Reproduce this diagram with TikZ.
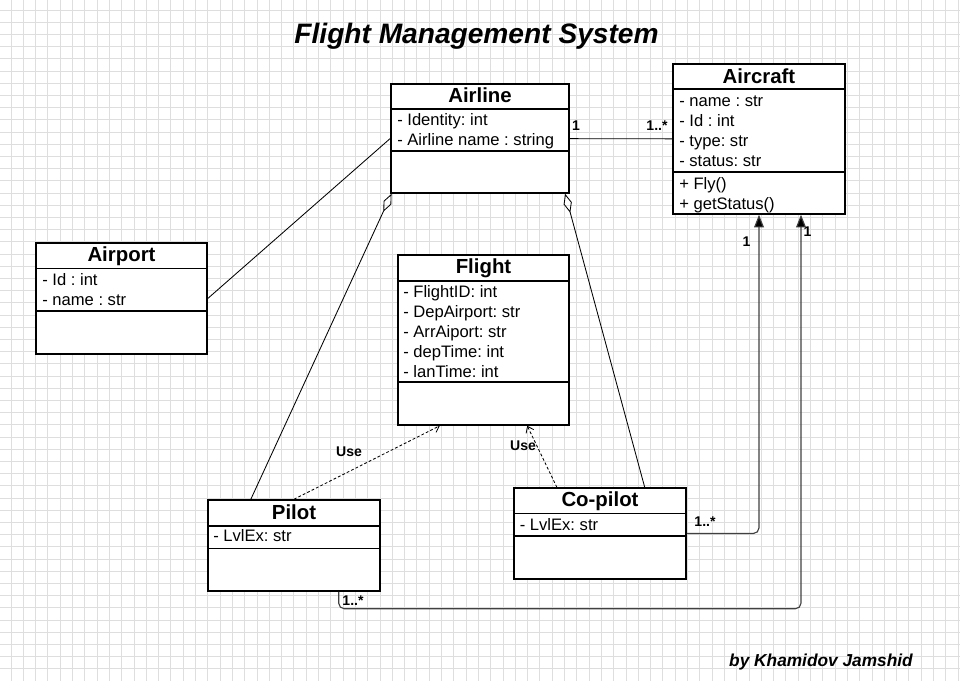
\documentclass[tikz,border=0pt]{standalone}
\usepackage{fontspec}
\setmainfont{Liberation Sans}
\usetikzlibrary{arrows.meta,fit}
\frenchspacing

\tikzset{
  gridline/.style={draw=black!13, line width=0.6pt},
  classbox/.style={draw, line width=1.1pt, fill=white, inner sep=0pt},
  divider/.style={line width=1pt},
  classname/.style={font=\bfseries\fontsize{14.5}{16}\selectfont, inner sep=0pt, anchor=base},
  attr/.style={font=\fontsize{11.8}{13}\selectfont, inner sep=0pt, anchor=base west},
  mult/.style={font=\bfseries\fontsize{10}{11}\selectfont, inner sep=0pt, anchor=base},
  assoc/.style={line width=0.6pt},
  aggr/.style={line width=0.6pt, {Diamond[open,length=14pt,width=6pt]}-},
  uses/.style={dash pattern=on 2pt off 1.5pt, line width=0.6pt, -{Straight Barb[length=4pt,width=6pt]}},
  navig/.style={line width=0.8pt, draw=black!75, rounded corners=4pt, -{Triangle[length=9pt,width=7pt,fill=black]}},
}

\begin{document}
\begin{tikzpicture}[x=0.025cm, y=-0.025cm]
  \useasboundingbox (0,0) rectangle (960,681);
  % background grid
  \foreach \gx in {11,23.3,...,960}
    \draw[gridline] (\gx,0) -- (\gx,681);
  \foreach \gy in {10,22.2,...,681}
    \draw[gridline] (0,\gy) -- (960,\gy);

  \node[font=\bfseries\itshape\fontsize{20}{24}\selectfont, inner sep=0pt, anchor=base]
    (title) at (476.5,44) {Flight Management System};

  % classes
  \node[classbox, fit={(391,84) (569,193)}] (airline) {};
  \draw[divider] (391,109) -- (569,109) (391,151) -- (569,151);
  \node[classname] (airline-name) at (480,102.5) {Airline};
  \foreach \txt [count=\i] in {- Identity: int, - Airline name : string}
    \node[attr] (airline-attr\i) at (397,106+20*\i) {\txt};

  \node[classbox, fit={(673,64) (845,214)}] (aircraft) {};
  \draw[divider] (673,89) -- (845,89) (673,172) -- (845,172);
  \node[classname] (aircraft-name) at (759,84) {Aircraft};
  \foreach \txt [count=\i] in {- name : str, - Id : int, - type: str, - status: str}
    \node[attr] (aircraft-attr\i) at (679,87+20*\i) {\txt};
  \foreach \txt [count=\i] in {+ Fly(), + getStatus()}
    \node[attr] (aircraft-op\i) at (679,170+20*\i) {\txt};

  \node[classbox, fit={(36,243) (207,354)}] (airport) {};
  \draw[divider] (36,268.5) -- (207,268.5) (36,311) -- (207,311);
  \node[classname] (airport-name) at (121.5,261.7) {Airport};
  \foreach \txt [count=\i] in {- Id : int, - name : str}
    \node[attr] (airport-attr\i) at (42,266+20*\i) {\txt};

  \node[classbox, fit={(398,255) (569,425)}] (flight) {};
  \draw[divider] (398,281) -- (569,281) (398,382) -- (569,382);
  \node[classname] (flight-name) at (483.5,274) {Flight};
  \foreach \txt [count=\i] in {- FlightID: int, - DepAirport: str, - ArrAiport: str, - depTime: int, - lanTime: int}
    \node[attr] (flight-attr\i) at (403,278+20*\i) {\txt};

  \node[classbox, fit={(208,500) (380,591)}] (pilot) {};
  \draw[divider] (208,526) -- (380,526) (208,548.5) -- (380,548.5);
  \node[classname] (pilot-name) at (294,519.3) {Pilot};
  \node[attr] (pilot-attr1) at (213,541.7) {- LvlEx: str};

  \node[classbox, fit={(514,488) (686,579)}] (copilot) {};
  \draw[divider] (514,513.5) -- (686,513.5) (514,536) -- (686,536);
  \node[classname] (copilot-name) at (600,506.7) {Co-pilot};
  \node[attr] (copilot-attr1) at (519.5,530.7) {- LvlEx: str};

  % relations
  \draw[assoc] (airline) -- (aircraft);
  \node[mult] (airline-one) at (576,131) {1};
  \node[mult] (aircraft-many) at (657,131) {1..*};
  \draw[assoc] (airport.east) -- (airline.west);
  \draw[aggr] (airline.212) -- (pilot.133);
  \draw[aggr] (airline.327.3) -- (copilot.46.6);

  \draw[uses] (pilot.north) -- (flight.243);
  \node[mult] (pilot-use) at (349,456) {Use};
  \draw[uses] (copilot.133) -- (flight.297);
  \node[mult] (copilot-use) at (523,450) {Use};

  \draw[navig] (copilot.east) -| (aircraft.south);
  \node[mult] (copilot-many) at (705,526) {1..*};
  \node[mult] (aircraft-one-a) at (746.5,247) {1};
  \draw[navig] (pilot.314) -- ++(0,17) -| (aircraft.299.8);
  \node[mult] (pilot-many) at (353,605) {1..*};
  \node[mult] (aircraft-one-b) at (807.5,237) {1};

  \node[font=\bfseries\itshape\fontsize{12.3}{14}\selectfont, inner sep=0pt, anchor=base]
    (author) at (821,666) {by Khamidov Jamshid};
\end{tikzpicture}
\end{document}
